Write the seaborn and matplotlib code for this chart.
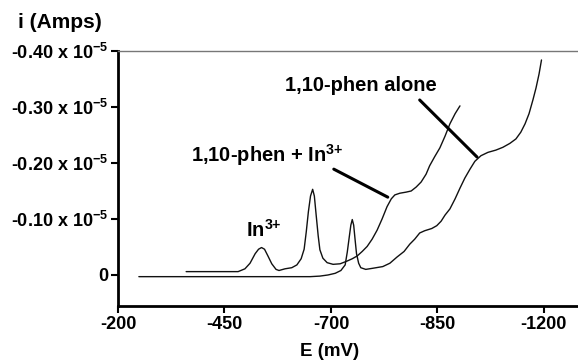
import numpy as np
import pandas as pd
import matplotlib
matplotlib.use("Agg")
import matplotlib.pyplot as plt
import seaborn as sns

# potential (mV) and current (x 1e-5 A)
e_mix = [-360, -482, -498, -510, -522, -530, -537, -544, -552, -561, -571, -578,
         -592, -608, -620, -630, -637, -642, -647, -652, -657, -661, -665, -670,
         -674, -681, -691, -703, -713, -723, -730, -737, -744, -751, -758, -765,
         -772, -779, -785, -790, -797, -806, -813, -820, -827, -834, -839, -846,
         -858, -875, -891, -908, -924]
i_mix = [-0.006, -0.006, -0.011, -0.021, -0.038, -0.046, -0.049, -0.046, -0.034,
         -0.020, -0.010, -0.008, -0.011, -0.013, -0.018, -0.029, -0.046, -0.077,
         -0.113, -0.141, -0.153, -0.141, -0.109, -0.070, -0.045, -0.030, -0.022,
         -0.019, -0.020, -0.025, -0.029, -0.034, -0.042, -0.051, -0.064, -0.080,
         -0.100, -0.122, -0.136, -0.143, -0.146, -0.148, -0.150, -0.157, -0.166,
         -0.180, -0.195, -0.211, -0.227, -0.248, -0.270, -0.288, -0.302]

e_phen = [-249, -651, -674, -693, -706, -714, -720, -723, -726, -728, -730, -732,
          -734, -736, -739, -742, -749, -759, -773, -783, -793, -803, -811, -818,
          -825, -832, -842, -849, -862, -875, -891, -908, -924, -940, -957, -973,
          -993, -1016, -1042, -1065, -1088, -1108, -1124, -1138, -1151, -1164,
          -1174, -1184, -1192]
i_phen = [0.003, 0.003, 0.002, 0.000, -0.003, -0.008, -0.018, -0.041, -0.070,
          -0.089, -0.099, -0.089, -0.063, -0.038, -0.021, -0.013, -0.010, -0.012,
          -0.015, -0.021, -0.032, -0.042, -0.055, -0.064, -0.075, -0.079, -0.083,
          -0.088, -0.096, -0.107, -0.118, -0.136, -0.155, -0.173, -0.189, -0.203,
          -0.213, -0.219, -0.223, -0.228, -0.235, -0.243, -0.255, -0.270, -0.288,
          -0.313, -0.334, -0.359, -0.384]

x_ticks = [-200, -450, -700, -850, -1200]
y_ticks = [0, -0.10, -0.20, -0.30, -0.40]
y_labels = ["0", "-0.10 x 10$^{-5}$", "-0.20 x 10$^{-5}$",
            "-0.30 x 10$^{-5}$", "-0.40 x 10$^{-5}$"]

df = pd.concat([
    pd.DataFrame({"E": e_mix, "i": i_mix, "trace": "mix"}),
    pd.DataFrame({"E": e_phen, "i": i_phen, "trace": "phen"}),
])

sns.set_style("ticks")
plt.rcParams["font.family"] = ["Liberation Sans", "DejaVu Sans"]
plt.rcParams["font.weight"] = "bold"
plt.rcParams["text.color"] = "black"
plt.rcParams["mathtext.fontset"] = "custom"
plt.rcParams["mathtext.rm"] = "Liberation Sans:bold"
plt.rcParams["mathtext.default"] = "rm"
plt.rcParams["axes.unicode_minus"] = False

fig = plt.figure(figsize=(5.78, 3.6), dpi=100)
ax = fig.add_axes([118 / 578, 1 - 306 / 360, 1 - 118 / 578, (306 - 51) / 360])

sns.lineplot(data=df, x="E", y="i", units="trace", estimator=None, sort=False,
             color="#111111", lw=1.0, ax=ax)

# uneven potential axis: equally spaced ticks
xp = [0, 200, 450, 700, 850, 1200, 3000]
fp = [-0.8, 0, 1, 2, 3, 4, 4 + 1800 / 350]
fwd = lambda e: -np.interp(-np.asarray(e, dtype=float), xp, fp)
inv = lambda v: -np.interp(-np.asarray(v, dtype=float), fp, xp)
ax.set_xscale("function", functions=(fwd, inv))
ax.set_xlim(-200, -1312)
ax.set_ylim(0.0554, -0.40)

ax.set_xticks(x_ticks)
ax.set_xticklabels([str(t) for t in x_ticks])
ax.set_yticks(y_ticks)
ax.set_yticklabels(y_labels)
ax.minorticks_off()
ax.tick_params(labelsize=13, length=5, width=1.5, pad=2, colors="black")
ax.set_xlabel("")
ax.set_ylabel("")

for s in ["left", "bottom"]:
    ax.spines[s].set_linewidth(2)
    ax.spines[s].set_color("black")
ax.spines["top"].set_color("#777777")
ax.spines["top"].set_linewidth(1)
ax.spines["right"].set_visible(False)

# annotations
ax.text(-742, -0.339, "1,10-phen alone", ha="center", va="center", fontsize=14.5, fontweight="bold")
ax.plot([-825, -980], [-0.3125, -0.2107], color="black", lw=2.2)
ax.text(-550, -0.214, "1,10-phen + In$^{3{+}}$", ha="center", va="center", fontsize=14.5, fontweight="bold")
ax.plot([-704, -780], [-0.189, -0.139], color="black", lw=2.2)
ax.text(-543, -0.080, "In$^{3{+}}$", ha="center", va="center", fontsize=14.5, fontweight="bold")

fig.text(18 / 578, 1 - 23 / 360, "i (Amps)", ha="left", va="center", fontsize=15, fontweight="bold")
fig.text(330 / 578, 1 - 352 / 360, "E (mV)", ha="center", va="center", fontsize=13.5, fontweight="bold")

fig.savefig("out.png", dpi=100)
